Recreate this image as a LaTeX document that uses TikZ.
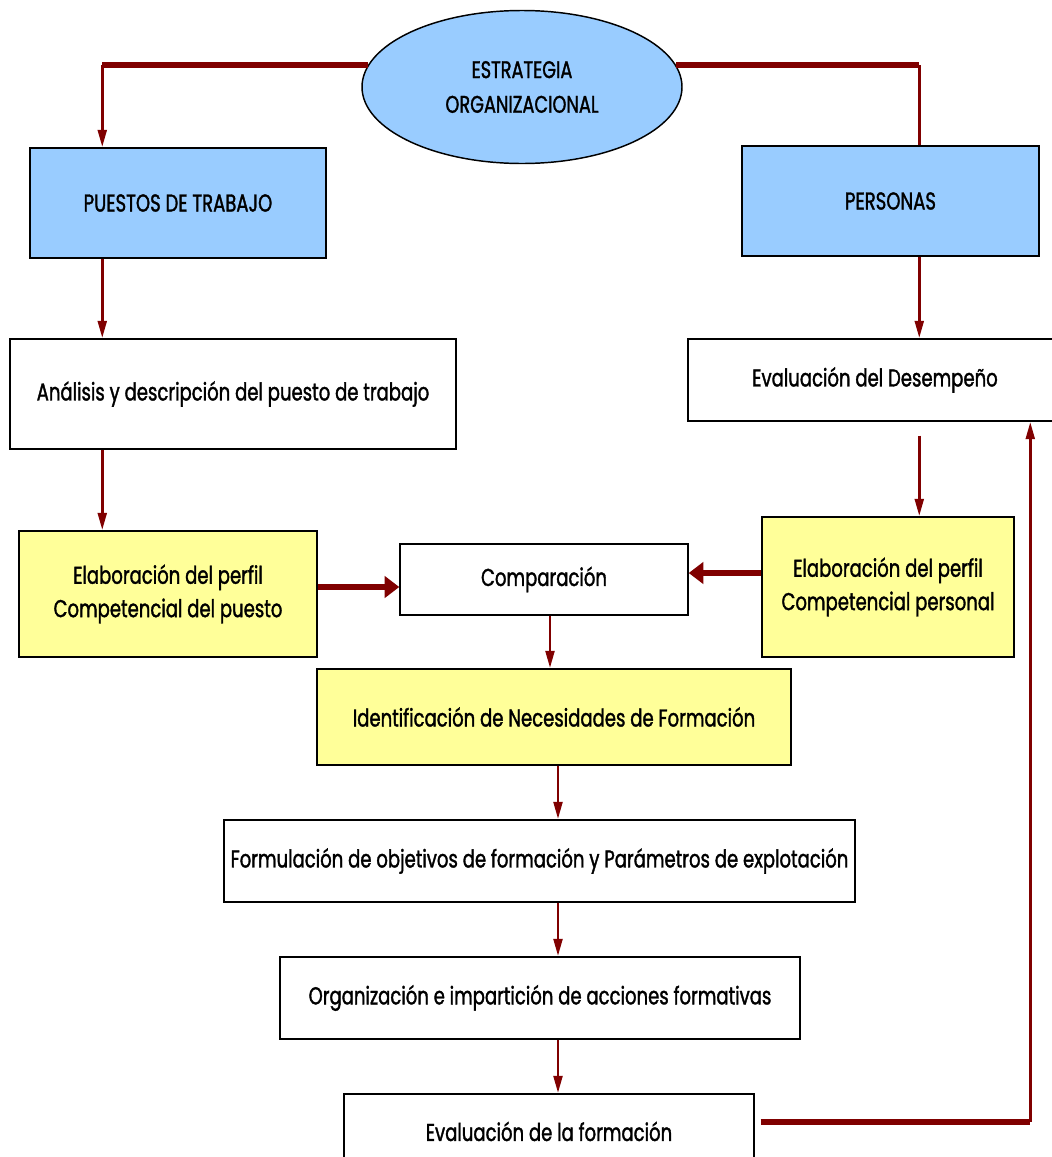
\documentclass[tikz,border=0pt]{standalone}
\usepackage{fontspec}
\setmainfont{Poppins}[FakeStretch=0.74,FakeBold=1.4]
\usetikzlibrary{shapes.geometric,arrows.meta,calc}
\definecolor{dred}{RGB}{128,0,0}
\definecolor{lblue}{RGB}{153,204,255}
\definecolor{lyellow}{RGB}{255,255,153}
\begin{document}
\begin{tikzpicture}[x=0.75pt,y=-0.75pt,
  box/.style={draw=black,line width=1.1pt,rectangle,align=center,inner sep=0pt,font=\fontsize{18.3}{25}\selectfont},
  bluebox/.style={box,fill=lblue},
  yelbox/.style={box,fill=lyellow},
  thinarrow/.style={draw=dred,line width=2.2pt,-{Triangle[length=13pt,width=6.5pt]}},
  thinline/.style={draw=dred,line width=2.2pt},
  thickline/.style={draw=dred,line width=4.5pt},
  thickarrow/.style={draw=dred,line width=5pt,-{Triangle[length=11pt,width=16pt]}}]
\useasboundingbox (0,0) rectangle (1052,1157);
\fill[white] (0,0) rectangle (1052,1157);

\node[ellipse,draw=black,line width=1.1pt,fill=lblue,minimum width=240pt,minimum height=114.75pt,inner sep=0pt,align=center,font=\fontsize{18}{26}\selectfont] (ell) at (522,87) {ESTRATEGIA\\ORGANIZACIONAL};

\node[bluebox,minimum width=222pt,minimum height=82.5pt] (puestos) at (178,203) {PUESTOS DE TRABAJO};
\node[bluebox,minimum width=222.75pt,minimum height=82.5pt] (personas) at (890.5,201) {PERSONAS};
\node[box,minimum width=334.5pt,minimum height=82.5pt] (analisis) at (233,394) {Análisis y descripción del puesto de trabajo};
\node[box,minimum width=280.5pt,minimum height=61.5pt] (desemp) at (875,380) {Evaluación del Desempeño};
\node[yelbox,minimum width=223.5pt,minimum height=94.5pt] (elabL) at (168,594) {Elaboración del perfil\\Competencial del puesto};
\node[box,minimum width=216pt,minimum height=53.25pt] (comp) at (544,579.5) {Comparación};
\node[yelbox,minimum width=189pt,minimum height=105pt] (elabR) at (888,587) {Elaboración del perfil\\Competencial personal};
\node[yelbox,minimum width=355.5pt,minimum height=72pt] (ident) at (554,717) {Identificación de Necesidades de Formación};
\node[box,minimum width=473.25pt,minimum height=61.5pt] (formul) at (539.5,861) {Formulación de objetivos de formación y Parámetros de explotación};
\node[box,minimum width=390pt,minimum height=61.5pt] (organiz) at (540,998) {Organización e impartición de acciones formativas};
\node[box,minimum width=307.5pt,minimum height=64.5pt,text depth=0pt] (evalf) at (549,1137) {\raisebox{8.5pt}{Evaluación de la formación}};

\coordinate (Lx) at ($(puestos.north west)+(73,0)$);
\coordinate (Rx) at ($(personas.north west)+(178,0)$);
\coordinate (Fx) at ($(desemp.south west)+(343,0)$);
\coordinate (cL) at ($(elabL.east)+(0,-7)$);
\coordinate (cR) at ($(elabR.west)+(0,-14)$);
\coordinate (c1) at ($(comp.south)+(6,0)$);
\coordinate (c2) at ($(ident.south)+(4,0)$);
\coordinate (c3) at ($(formul.south)+(18.5,0)$);
\coordinate (c4) at ($(organiz.south)+(18,0)$);
\coordinate (fb) at ($(evalf.east)+(6,-15)$);

% top connectors
\draw[thickline] (ell.172) -- (ell.172 -| Lx);
\draw[thinarrow] (ell.172 -| Lx) -- (Lx);
\draw[thickline] (ell.8) -- (ell.8 -| Rx);
\draw[thinline] (ell.8 -| Rx) -- (Rx);

% left column
\draw[thinarrow] (puestos.south -| Lx) -- (analisis.north -| Lx);
\draw[thinarrow] (analisis.south -| Lx) -- (elabL.north -| Lx);
% right column
\draw[thinarrow] (personas.south -| Rx) -- (desemp.north -| Rx);
\draw[thinarrow,shorten <=10.5pt] (desemp.south -| Rx) -- (elabR.north -| Rx);

% into comparacion
\draw[thickarrow] (cL) -- (cL -| comp.west);
\draw[thickarrow] (cR) -- (cR -| comp.east);

% central column
\draw[thinarrow] (c1) -- (c1 |- ident.north);
\draw[thinarrow] (c2) -- (c2 |- formul.north);
\draw[thinarrow] (c3) -- (c3 |- organiz.north);
\draw[thinarrow] (c4) -- (c4 |- evalf.north);

% feedback
\draw[thickline] (fb) -- (fb -| Fx);
\draw[thinarrow] (fb -| Fx) -- (Fx);
\end{tikzpicture}
\end{document}
